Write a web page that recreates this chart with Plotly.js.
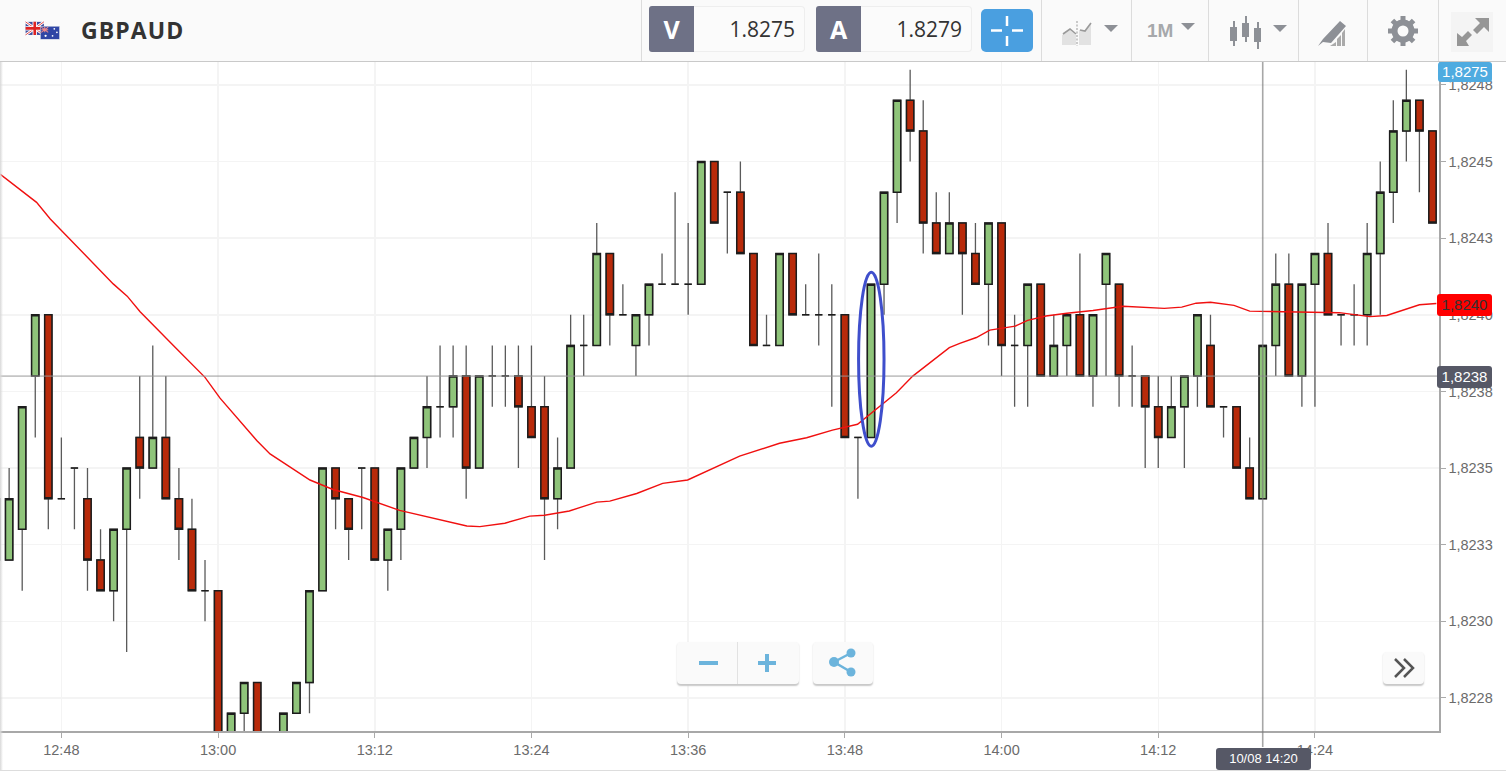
<!DOCTYPE html>
<html><head><meta charset="utf-8">
<script src="https://cdn.plot.ly/plotly-3.0.1.min.js"></script>
<style>
html,body{margin:0;padding:0;width:1506px;height:771px;overflow:hidden;background:#fff;font-family:"Liberation Sans",Arial,sans-serif}
#chart{position:absolute;left:0;top:0;width:1506px;height:771px}
.abs{position:absolute;box-sizing:border-box}
#bar{left:0;top:0;width:1506px;height:62px;background:#fafafa;border-bottom:1px solid #c9c9c9}
.sep{top:0;width:1px;height:61px;background:#dcdcdc}
.lab{background:#6e7186;color:#fff;font:bold 25px "Open Sans",sans-serif;text-align:center;line-height:46px;border-radius:3px 0 0 3px;top:6px;height:46px;width:45px}
.val{background:#fbfbfb;border:1px solid #eee;border-left:0;border-radius:0 4px 4px 0;top:6px;height:46px;color:#333;font:21px "Open Sans",sans-serif;line-height:44px;text-align:right;padding-right:9px}
.tag{color:#fff;font:15px/22px "Liberation Sans",sans-serif;text-align:center;border-radius:3px}
.btn{background:#fafafa;border-radius:4px;box-shadow:0 1.5px 1.5px #c8c8c8}
</style></head><body>
<div id="chart"></div>
<div class="abs" style="left:0;top:0;width:3px;height:771px;background:linear-gradient(to right,#d8d8d8,rgba(255,255,255,0))"></div>
<div class="abs" style="left:0;top:770px;width:1506px;height:1px;background:#ddd"></div>

<div class="abs" id="bar"></div>
<svg class="abs" style="left:23px;top:21px" width="40" height="20" viewBox="0 0 40 23">
<rect x="0" y="1" width="21" height="15" fill="#3b4a9c"/><path d="M0 1L21 16M21 1L0 16" stroke="#fff" stroke-width="3"/><path d="M0 1L21 16M21 1L0 16" stroke="#d33" stroke-width="1"/><path d="M10.5 1V16M0 8.5H21" stroke="#fff" stroke-width="5"/><path d="M10.5 1V16M0 8.5H21" stroke="#d22" stroke-width="3"/>
<rect x="17" y="6" width="22" height="15" fill="#2f45a5" stroke="#eee" stroke-width="0.5"/><path d="M18 7L26 13M26 7L18 13M22 7V13M18 10H26" stroke="#e88" stroke-width="1.2"/><circle cx="33" cy="9" r="1" fill="#fff"/><circle cx="36" cy="13" r="1" fill="#fff"/><circle cx="31" cy="17" r="1" fill="#fff"/><circle cx="23" cy="17" r="1.3" fill="#fff"/>
</svg>
<div class="abs" style="left:81px;top:15px;font:bold 23px/30px 'Open Sans',sans-serif;color:#333;letter-spacing:1.1px">GBPAUD</div>

<div class="abs sep" style="left:641px"></div>
<div class="abs lab" style="left:649px">V</div><div class="abs val" style="left:694px;width:111px">1.8275</div>
<div class="abs lab" style="left:816px">A</div><div class="abs val" style="left:861px;width:111px">1.8279</div>
<div class="abs" style="left:981px;top:9px;width:52px;height:43px;background:#4a9fe0;border-radius:5px"></div>
<svg class="abs" style="left:981px;top:9px" width="52" height="43"><path d="M26 7V17M26 27V37M10 21.500H21M31 21.500H42" stroke="#fff" stroke-width="2.500"/></svg>
<div class="abs sep" style="left:1041px"></div><div class="abs sep" style="left:1131px"></div><div class="abs sep" style="left:1208px"></div><div class="abs sep" style="left:1298px"></div><div class="abs sep" style="left:1367px"></div><div class="abs sep" style="left:1438px"></div>
<svg class="abs" style="left:1060px;top:18px" width="60" height="30">
<path d="M2 27V17L10 12L16 17V27ZM19 27V12L24 13L31 5V27Z" fill="#e2e2e2"/><path d="M3 16L10 11L16 16M20 12L25 13L31 5" fill="none" stroke="#9a9a9a" stroke-width="1.600"/><path d="M17 3V28" stroke="#999" stroke-width="1" stroke-dasharray="2 1.500"/>
<path d="M44 7H58L51 14Z" fill="#8d9096"/></svg>
<div class="abs" style="left:1147px;top:19px;font:bold 19px/24px 'Liberation Sans';color:#a6a8ab">1M</div>
<svg class="abs" style="left:1180px;top:20px" width="16" height="12"><path d="M1 3H15L8 10Z" fill="#8d9096"/></svg>
<svg class="abs" style="left:1228px;top:14px" width="70" height="38" fill="#8d9096" stroke="#8d9096">
<path d="M6 7V32M18 2V28M30 8V35" stroke-width="2"/><rect x="2" y="13" width="7" height="14" stroke="none"/><rect x="14" y="9" width="7" height="14" stroke="none"/><rect x="26" y="14" width="7" height="14" stroke="none"/><path d="M45 11H59L52 18Z" stroke="none"/></svg>
<svg class="abs" style="left:1316px;top:18px" width="34" height="30" fill="#8d9096"><path d="M2 28L7 21L24 3L30 8L15 25L7 24Z"/><path d="M14 28L20 24V28ZM21 28V21L25 17V28ZM26 28V15L29 11V28Z" fill="#aaa"/></svg>
<svg class="abs" style="left:1387px;top:15px" width="32" height="32" viewBox="0 0 32 32"><circle cx="16" cy="16" r="8.500" fill="none" stroke="#8d9096" stroke-width="6"/><path d="M16 1V7M16 25V31M1 16H7M25 16H31M5.400 5.400L9.600 9.600M22.400 22.400L26.600 26.600M26.600 5.400L22.400 9.600M9.600 22.400L5.400 26.600" stroke="#8d9096" stroke-width="5"/></svg>
<div class="abs" style="left:1451px;top:12px;width:42px;height:40px;background:#f4f4f4"></div>
<svg class="abs" style="left:1451px;top:12px" width="42" height="40" fill="#969696"><path d="M24 6H38V20L33 15L26 22L22 18L29 11ZM18 34H6V21L11 25L17 19L21 23L15 29Z"/></svg>

<div class="abs tag" style="left:1438px;top:62px;width:54px;height:20px;line-height:20px;background:#4fabe0">1,8275</div>
<div class="abs tag" style="left:1437px;top:294px;width:55px;height:22px;background:#ff0000;color:#333">1,8240</div>
<div class="abs tag" style="left:1437px;top:366px;width:55px;height:22px;background:#565866">1,8238</div>
<div class="abs tag" style="left:1216px;top:748px;width:95px;height:22px;background:#565866;font-size:13px">10/08 14:20</div>

<div class="abs btn" style="left:677px;top:642px;width:122px;height:42px"></div>
<div class="abs" style="left:737px;top:642px;width:1px;height:42px;background:#e2e2e2"></div>
<svg class="abs" style="left:677px;top:642px" width="122" height="42"><path d="M22 21H41M81 21H99M90 12V30" stroke="#6cb4dc" stroke-width="4"/></svg>
<div class="abs btn" style="left:813px;top:642px;width:60px;height:42px"></div>
<svg class="abs" style="left:813px;top:642px" width="60" height="42"><path d="M38 11L21 20L38 30" fill="none" stroke="#6cb4dc" stroke-width="2.500"/><circle cx="38" cy="11" r="4.500" fill="#6cb4dc"/><circle cx="21" cy="20" r="5" fill="#6cb4dc"/><circle cx="38" cy="30" r="4.500" fill="#6cb4dc"/></svg>
<div class="abs btn" style="left:1383px;top:652px;width:41px;height:32px"></div>
<svg class="abs" style="left:1383px;top:652px" width="41" height="32"><path d="M12 7L21 16L12 25M21 7L30 16L21 25" fill="none" stroke="#555" stroke-width="2.500"/></svg>

<script>
// minutes relative to 13:00 for each candle
const candleMinutes=[-17,-16,-15,-14,-13,-12,-11,-10,-9,-8,-7,-6,-5,-4,-3,-2,-1,0,1,2,3,4,5,6,7,8,9,10,11,12,13,14,15,16,17,18,19,20,21,22,23,24,25,26,27,28,29,30,31,32,33,34,35,36,37,38,39,40,41,42,43,44,45,46,47,48,49,50,51,52,53,54,55,56,57,58,59,60,61,62,63,64,65,66,67,68,69,70,71,72,73,74,75,76,77,78,79,80,81,82,83,84,85,86,87,88,89,90,91,92,93];
const opens=[1.8234,1.8232,1.8233,1.8238,1.8240,1.8234,1.8235,1.8234,1.8232,1.8231,1.8233,1.8236,1.8235,1.8236,1.8234,1.8233,1.8231,1.8231,1.8226,1.8227,1.8228,1.8225,1.8226,1.8227,1.8228,1.8231,1.8235,1.8234,1.8235,1.8235,1.8232,1.8233,1.8235,1.8236,1.8237,1.8237,1.8238,1.8235,1.8238,1.8238,1.8238,1.8237,1.8237,1.8234,1.8235,1.8239,1.8239,1.8242,1.8240,1.8239,1.8240,1.8241,1.8241,1.8241,1.8241,1.8245,1.8244,1.8244,1.8242,1.8239,1.8239,1.8242,1.8240,1.8240,1.8240,1.8240,1.8236,1.8236,1.8241,1.8244,1.8247,1.8246,1.8243,1.8242,1.8243,1.8242,1.8241,1.8243,1.8239,1.8239,1.8241,1.8238,1.8239,1.8240,1.8238,1.8241,1.8241,1.8238,1.8238,1.8237,1.8236,1.8237,1.8238,1.8239,1.8237,1.8237,1.8235,1.8234,1.8239,1.8241,1.8238,1.8241,1.8242,1.8240,1.8240,1.8240,1.8242,1.8244,1.8246,1.8247,1.8246];
const highs=[1.8235,1.8235,1.8237,1.8240,1.8240,1.8236,1.8235,1.8235,1.8233,1.8233,1.8235,1.8238,1.8239,1.8238,1.8235,1.8234,1.8232,1.8231,1.8227,1.8228,1.8228,1.8225,1.8227,1.8228,1.8231,1.8235,1.8235,1.8234,1.8235,1.8235,1.8233,1.8235,1.8236,1.8238,1.8239,1.8239,1.8239,1.8238,1.8239,1.8239,1.8239,1.8239,1.8238,1.8236,1.8240,1.8240,1.8243,1.8242,1.8241,1.8240,1.8241,1.8242,1.8244,1.8243,1.8245,1.8245,1.8244,1.8245,1.8242,1.8240,1.8242,1.8242,1.8241,1.8242,1.8241,1.8240,1.8236,1.8241,1.8244,1.8247,1.8248,1.8247,1.8244,1.8244,1.8243,1.8243,1.8243,1.8243,1.8240,1.8241,1.8241,1.8240,1.8240,1.8242,1.8240,1.8242,1.8241,1.8239,1.8238,1.8238,1.8238,1.8238,1.8240,1.8240,1.8237,1.8237,1.8236,1.8239,1.8242,1.8242,1.8241,1.8242,1.8243,1.8240,1.8241,1.8243,1.8245,1.8247,1.8248,1.8247,1.8246];
const lows=[1.8232,1.8232,1.8231,1.8236,1.8233,1.8234,1.8233,1.8231,1.8231,1.8230,1.8229,1.8234,1.8235,1.8234,1.8232,1.8231,1.8230,1.8226,1.8226,1.8226,1.8226,1.8225,1.8226,1.8227,1.8227,1.8231,1.8233,1.8232,1.8233,1.8232,1.8231,1.8232,1.8235,1.8235,1.8236,1.8236,1.8234,1.8235,1.8237,1.8237,1.8235,1.8236,1.8232,1.8233,1.8235,1.8238,1.8239,1.8239,1.8240,1.8238,1.8239,1.8241,1.8241,1.8240,1.8241,1.8243,1.8242,1.8242,1.8239,1.8239,1.8239,1.8240,1.8240,1.8239,1.8237,1.8236,1.8234,1.8236,1.8240,1.8243,1.8245,1.8242,1.8242,1.8242,1.8240,1.8241,1.8239,1.8238,1.8237,1.8237,1.8238,1.8238,1.8238,1.8238,1.8237,1.8238,1.8237,1.8237,1.8235,1.8235,1.8236,1.8235,1.8237,1.8237,1.8236,1.8235,1.8234,1.8234,1.8238,1.8238,1.8237,1.8237,1.8240,1.8239,1.8239,1.8239,1.8240,1.8243,1.8245,1.8244,1.8243];
const closes=[1.8232,1.8234,1.8237,1.8240,1.8234,1.8234,1.8235,1.8232,1.8231,1.8233,1.8235,1.8235,1.8236,1.8234,1.8233,1.8231,1.8231,1.8226,1.8227,1.8228,1.8226,1.8225,1.8227,1.8228,1.8231,1.8235,1.8234,1.8233,1.8235,1.8232,1.8233,1.8235,1.8236,1.8237,1.8237,1.8238,1.8235,1.8238,1.8238,1.8238,1.8237,1.8236,1.8234,1.8235,1.8239,1.8239,1.8242,1.8240,1.8240,1.8240,1.8241,1.8241,1.8241,1.8241,1.8245,1.8243,1.8244,1.8242,1.8239,1.8239,1.8242,1.8240,1.8240,1.8240,1.8240,1.8236,1.8236,1.8241,1.8244,1.8247,1.8246,1.8243,1.8242,1.8243,1.8242,1.8241,1.8243,1.8239,1.8239,1.8241,1.8238,1.8239,1.8240,1.8238,1.8240,1.8242,1.8238,1.8238,1.8237,1.8236,1.8237,1.8238,1.8240,1.8237,1.8237,1.8235,1.8234,1.8239,1.8241,1.8238,1.8241,1.8242,1.8240,1.8240,1.8240,1.8242,1.8244,1.8246,1.8247,1.8246,1.8243];
const maMinutes=[-16.7,-13.9,-12.85,-8.03,-6.96,-5.97,-3.14,-1,0.15,2.98,3.98,7.04,8.8,11.1,13.9,16.45,19.05,20.05,21.96,23.87,25,26.9,29,30,32.06,34.05,35.96,39.94,43,45.07,47.05,48.97,50.65,51.95,53.2,54.25,56,56.8,58.07,59.1,61.05,62,63.4,65,67,69.3,72.46,73.8,74.9,76,77.8,79,83.4,85.85,88.2,89.5,92,93.3];
const maValues=[1.824459,1.824367,1.824313,1.824101,1.824061,1.824010,1.823888,1.823796,1.823728,1.823589,1.823546,1.823461,1.823430,1.823404,1.823362,1.823337,1.823311,1.823309,1.823320,1.823343,1.823346,1.823360,1.823389,1.823392,1.823417,1.823450,1.823461,1.823539,1.823581,1.823599,1.823624,1.823643,1.823702,1.823746,1.823800,1.823835,1.823893,1.823907,1.823926,1.823950,1.823963,1.823982,1.823996,1.824005,1.824014,1.824028,1.824021,1.824025,1.824038,1.824041,1.824031,1.824012,1.824009,1.824007,1.823994,1.823998,1.824033,1.824037];
const yTickVals=[1.82475,1.8245,1.82425,1.824,1.82375,1.8235,1.82325,1.823,1.82275];
const yTickText=["1,8248","1,8245","1,8243","1,8240","1,8238","1,8235","1,8233","1,8230","1,8228"];
const xRangeMinutes=[-16.7,93.5];
const yRange=[1.822642,1.824825];
const crossPrice=1.8238, crossMinute=80;
const ellipseMinutes=[49.05,51], ellipsePrices=[1.823571,1.824139];

const t=m=>new Date(Date.UTC(2017,7,10,13,0,0)+m*60000).toISOString().replace('T',' ').replace('Z','');
const x=candleMinutes.map(t);
const bodyHi=opens.map((o,i)=>Math.max(o,closes[i]));
const bodyLo=opens.map((o,i)=>Math.min(o,closes[i]));
const GREEN='#8fc47a', RED='#b82a0a';
const wicks={type:'candlestick',x,open:opens,high:highs,low:lows,close:closes,hoverinfo:'skip',showlegend:false,
  increasing:{line:{color:'#5a5a5a',width:1.3},fillcolor:GREEN},decreasing:{line:{color:'#5a5a5a',width:1.3},fillcolor:RED}};
const bodies={type:'candlestick',x,open:opens,high:bodyHi,low:bodyLo,close:closes,hoverinfo:'skip',showlegend:false,
  increasing:{line:{color:'#1c1c1c',width:1.5},fillcolor:GREEN},decreasing:{line:{color:'#1c1c1c',width:1.5},fillcolor:RED}};
const ma={type:'scatter',mode:'lines',x:maMinutes.map(t),y:maValues,line:{color:'#f01010',width:1.4},hoverinfo:'skip',showlegend:false};
const font={family:'"Liberation Sans",Arial,sans-serif',size:14.5,color:'#6b6b6b'};
const layout={width:1506,height:771,margin:{l:0,r:67,t:62,b:40},paper_bgcolor:'#fff',plot_bgcolor:'#fff',showlegend:false,boxgap:0.2,
  xaxis:{type:'date',range:xRangeMinutes.map(t),rangeslider:{visible:false},tick0:t(-12),dtick:720000,tickformat:'%H:%M',
    ticks:'outside',ticklen:5,tickcolor:'#aaa',showgrid:true,gridcolor:'#f4f4f4',gridwidth:1.5,showline:true,linecolor:'#a8a8a8',linewidth:1.5,zeroline:false,tickfont:font,fixedrange:true},
  yaxis:{side:'right',range:yRange,tickmode:'array',tickvals:yTickVals,ticktext:yTickText,ticks:'outside',ticklen:5,tickcolor:'#aaa',
    showgrid:true,gridcolor:'#f4f4f4',gridwidth:1.5,showline:true,linecolor:'#a8a8a8',linewidth:1.5,zeroline:false,tickfont:font,fixedrange:true},
  shapes:[
    {type:'line',xref:'paper',x0:0,x1:1,yref:'y',y0:crossPrice,y1:crossPrice,line:{color:'rgba(150,150,150,.55)',width:1.6}},
    {type:'line',xref:'x',x0:t(crossMinute),x1:t(crossMinute),yref:'paper',y0:-0.024,y1:1,line:{color:'rgba(120,120,120,.65)',width:1.6}},
    {type:'circle',xref:'x',yref:'y',x0:t(ellipseMinutes[0]),x1:t(ellipseMinutes[1]),y0:ellipsePrices[0],y1:ellipsePrices[1],line:{color:'#3f4fcc',width:3}}
  ]};
Plotly.newPlot('chart',[wicks,bodies,ma],layout,{displayModeBar:false,staticPlot:true});
</script>
</body></html>
